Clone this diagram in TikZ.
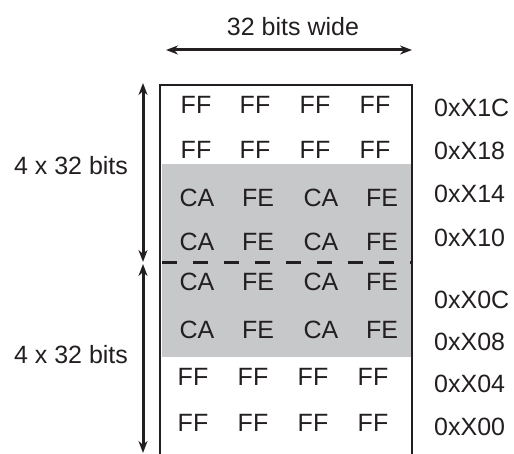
\documentclass[tikz,border=0pt]{standalone}
\usepackage{fontspec}
\setmainfont{Liberation Sans}
\usetikzlibrary{arrows.meta}
\definecolor{ink}{RGB}{35,31,32}
\definecolor{bandgray}{RGB}{199,200,202}
\begin{document}
\begin{tikzpicture}[x=1pt,y=-1pt,
  lbl/.style={inner sep=0pt,text=ink,font=\fontsize{25}{30}\selectfont},
  cell/.style={lbl},
  addr/.style={lbl,anchor=west},
  dimline/.style={line width=3pt,draw=ink,{Stealth[length=12pt,width=9pt]}-{Stealth[length=12pt,width=9pt]}},
  boxline/.style={line width=2.6pt,draw=ink},
  splitline/.style={line width=3pt,draw=ink,dash pattern=on 15pt off 16pt,dash phase=-4pt}]
\useasboundingbox (0,0) rectangle (514,454);
% shaded region
\fill[bandgray] (162,164) rectangle (411,357);
% frame
\draw[boxline] (160,456) -- (160,85) -- (412,85) -- (412,456);
% dashed divider
\coordinate (dl) at (158,263);
\coordinate (dr) at (413,263);
\draw[splitline] (dl) -- (dr);
% top dimension
\node[lbl] (wide) at (293,27) {32 bits wide};
\coordinate (wl) at (166,50);
\coordinate (wr) at (412,50);
\draw[dimline] (wl) -- (wr);
% left dimensions
\coordinate (u1) at (143,83);
\coordinate (u2) at (143,262);
\coordinate (l1) at (143,264);
\coordinate (l2) at (143,453);
\draw[dimline] (u1) -- (u2);
\draw[dimline] (l1) -- (l2);
\node[lbl] (hu) at (71,166) {4 x 32 bits};
\node[lbl] (hl) at (71,355) {4 x 32 bits};
% cells
\foreach \y/\r in {105/a,150/b}{
  \foreach \x/\c in {196/1,255/2,315/3,375/4}{
    \node[cell] (c\r\c) at (\x,\y) {FF};}}
\foreach \y/\r in {198/c,242/d,282/e,330/f}{
  \node[cell] (c\r1) at (197,\y) {CA};
  \node[cell] (c\r2) at (258,\y) {FE};
  \node[cell] (c\r3) at (321,\y) {CA};
  \node[cell] (c\r4) at (382,\y) {FE};}
\foreach \y/\r in {377/g,423/h}{
  \foreach \x/\c in {193/1,253/2,313/3,373/4}{
    \node[cell] (c\r\c) at (\x,\y) {FF};}}
% addresses
\node[addr] (a1C) at (434,108) {0xX1C};
\node[addr] (a18) at (434,151) {0xX18};
\node[addr] (a14) at (434,194) {0xX14};
\node[addr] (a10) at (434,238) {0xX10};
\node[addr] (a0C) at (434,300) {0xX0C};
\node[addr] (a08) at (434,342) {0xX08};
\node[addr] (a04) at (434,384) {0xX04};
\node[addr] (a00) at (434,427) {0xX00};
\end{tikzpicture}
\end{document}
